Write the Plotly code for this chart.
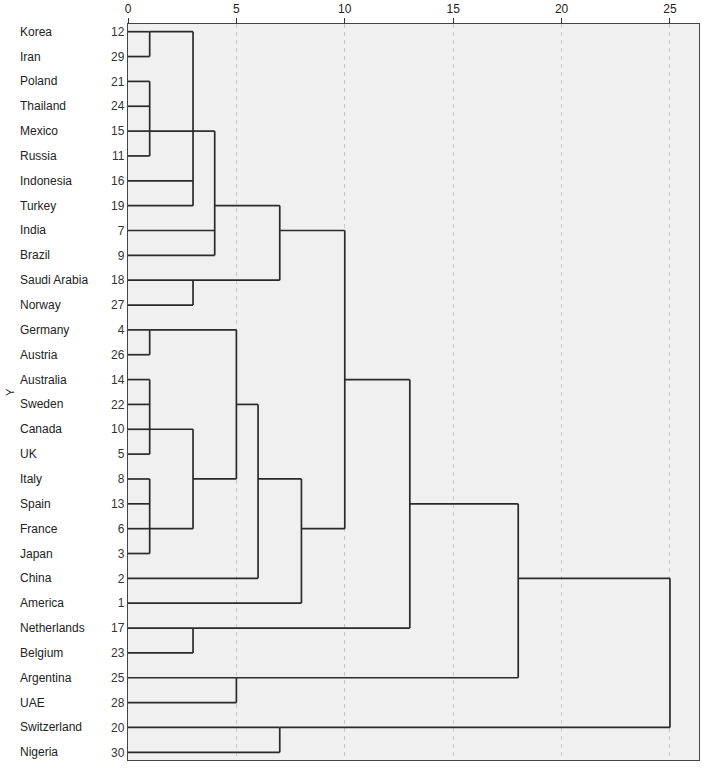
import plotly.graph_objects as go

# ---- data ----
countries = ["Korea", "Iran", "Poland", "Thailand", "Mexico", "Russia", "Indonesia", "Turkey",
             "India", "Brazil", "Saudi Arabia", "Norway", "Germany", "Austria", "Australia",
             "Sweden", "Canada", "UK", "Italy", "Spain", "France", "Japan", "China", "America",
             "Netherlands", "Belgium", "Argentina", "UAE", "Switzerland", "Nigeria"]
case_numbers = [12, 29, 21, 24, 15, 11, 16, 19, 7, 9, 18, 27, 4, 26, 14, 22, 10, 5, 8, 13,
                6, 3, 2, 1, 17, 23, 25, 28, 20, 30]

# merges: children ids (0-29 = leaves in row order, 30+ = earlier merges),
# rescaled distance of the merge, and row on which the merged cluster's line is drawn
merge_children = [
    [0, 1], [2, 3, 4, 5], [30, 31, 6, 7], [32, 8, 9], [10, 11], [33, 34],
    [12, 13], [14, 15, 16, 17], [18, 19, 20, 21], [37, 38], [36, 39], [40, 22],
    [41, 23], [35, 42], [24, 25], [43, 44], [26, 27], [45, 46], [28, 29], [47, 48],
]
merge_heights = [1, 1, 3, 4, 3, 7, 1, 1, 1, 3, 5, 6, 8, 10, 3, 13, 5, 18, 7, 25]
merge_rows = [0, 4, 4, 7, 10, 8, 12, 16, 20, 18, 15, 18, 20, 14, 24, 19, 26, 22, 28, 25]

x_ticks = [0, 5, 10, 15, 20, 25]

# ---- build line segments ----
n = len(countries)
height_of = {i: 0 for i in range(n)}
row_of = {i: i for i in range(n)}
for k, (ch, h, r) in enumerate(zip(merge_children, merge_heights, merge_rows)):
    height_of[n + k] = h
    row_of[n + k] = r

xs, ys = [], []
for k, (ch, h) in enumerate(zip(merge_children, merge_heights)):
    rows = [row_of[c] for c in ch]
    xs += [h, h, None]
    ys += [min(rows), max(rows), None]
    for c in ch:
        xs += [height_of[c], h, None]
        ys += [row_of[c], row_of[c], None]

fig = go.Figure()
fig.add_trace(go.Scatter(x=xs, y=ys, mode="lines",
                         line=dict(color="#2a2a2a", width=1.7),
                         hoverinfo="skip", showlegend=False))

for i, name in enumerate(countries):
    fig.add_annotation(x=-0.1918, xref="paper", y=i, yref="y", text=name,
                       showarrow=False, xanchor="left", yanchor="middle",
                       font=dict(size=12, color="#222222"))

fig.add_annotation(x=-0.2207, xref="paper", y=0.5, yref="paper", text="Y",
                   textangle=-90, showarrow=False, xanchor="left", yanchor="middle",
                   font=dict(size=11, color="#222222"))

fig.update_layout(
    width=708, height=768,
    margin=dict(l=128, r=9, t=24, b=8, autoexpand=False),
    paper_bgcolor="white", plot_bgcolor="#F0F0F0",
    font=dict(family="Arial, Liberation Sans, sans-serif", size=12, color="#222222"),
    showlegend=False,
)
fig.update_xaxes(
    side="top", range=[0, 26.34], tickvals=x_ticks, ticktext=[str(t) for t in x_ticks],
    ticks="outside", ticklen=5, tickcolor="#333333", tickwidth=1,
    showline=True, linecolor="#444444", linewidth=1.3, mirror=True,
    showgrid=True, gridcolor="#C8C8C8", griddash="4px,4px", gridwidth=1,
    zeroline=False, tickfont=dict(size=12, color="#222222"), automargin=False,
)
fig.update_yaxes(
    range=[29.31, -0.31], tickvals=list(range(n)), ticktext=[str(c) for c in case_numbers],
    ticks="", showline=True, linecolor="#444444", linewidth=1.3, mirror=True,
    showgrid=False, zeroline=False, tickfont=dict(size=12, color="#333333"),
    ticklabelstandoff=0, automargin=False,
)

fig.write_html("out.html", config={"displayModeBar": False},
               post_script="document.body.style.margin='0px';")
